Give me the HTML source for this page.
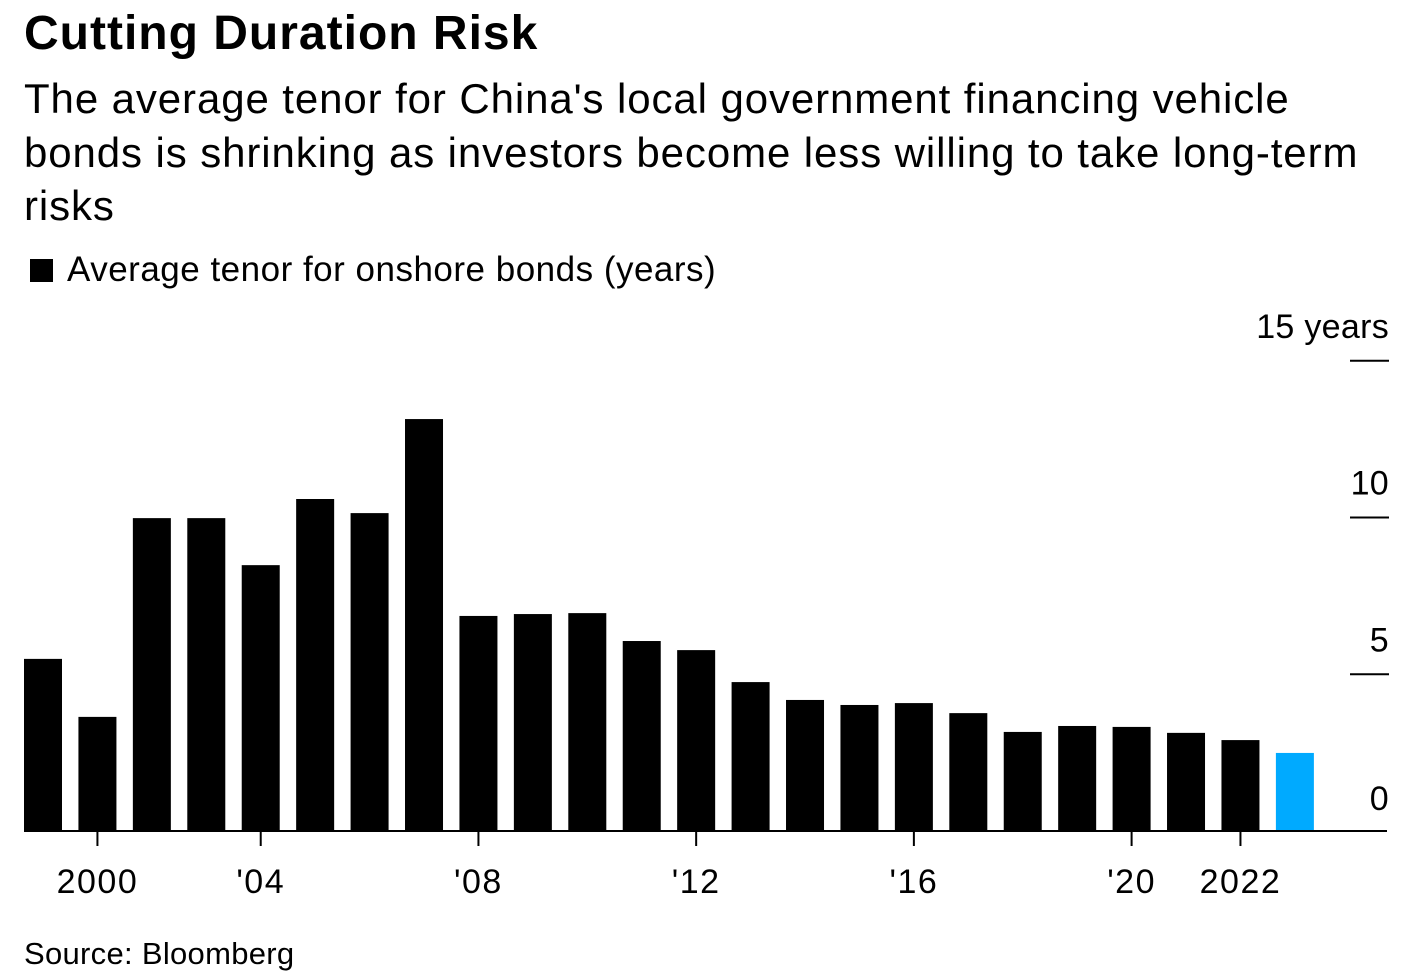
<!DOCTYPE html>
<html><head><meta charset="utf-8">
<style>
body{margin:0;background:#fff;font-family:"Liberation Sans",sans-serif;color:#000;width:1427px;height:979px;overflow:hidden;position:relative}
.t{position:absolute;left:24px;white-space:nowrap}
</style></head><body>
<div class="t" style="top:6px;font-size:48px;font-weight:bold;letter-spacing:1px">Cutting Duration Risk</div>
<div class="t" style="top:72px;font-size:42px;letter-spacing:0.9px;line-height:53.5px">The average tenor for China's local government financing vehicle<br>bonds is shrinking as investors become less willing to take long-term<br>risks</div>
<div class="t" style="top:250px;font-size:35px;letter-spacing:0.5px"><span style="display:inline-block;width:23px;height:23px;background:#000;margin-left:6px;margin-right:14px;vertical-align:-1px"></span>Average tenor for onshore bonds (years)</div>
<div class="t" style="top:936px;font-size:31px;letter-spacing:0.3px">Source: Bloomberg</div>
<svg id="chart" width="1427" height="979" style="position:absolute;left:0;top:0"></svg>
<script>
const years=[2000,2001,2002,2003,2004,2005,2006,2007,2008,2009,2010,2011,2012,2013,2014,2015,2016,2017,2018,2019,2020,2021,2022,2023];
const values=[5.49,3.64,9.98,9.98,8.48,10.59,10.14,13.14,6.86,6.92,6.95,6.06,5.77,4.75,4.18,4.02,4.08,3.76,3.16,3.35,3.32,3.13,2.90,2.49];
const yTicks=[0,5,10,15];
const yTickLabels=["0","5","10","15 years"];
const xTickYears=[2001,2004,2008,2012,2016,2020,2022];
const xTickLabels=["2000","'04","'08","'12","'16","'20","2022"];
const svg=document.getElementById('chart');
const NS='http://www.w3.org/2000/svg';
const x0=43,step=54.43,bw=38;
const xs=y=>x0+(y-years[0])*step;
const ys=v=>831-v*31.35;
function mk(t,a){const e=document.createElementNS(NS,t);for(const k in a)e.setAttribute(k,a[k]);svg.appendChild(e);return e;}
years.forEach((yr,i)=>{
  const r=mk('rect',{x:xs(yr)-bw/2,y:ys(values[i]),width:bw,height:ys(0)-ys(values[i]),fill:i===years.length-1?'#00aaff':'#000'});
  
  
});
yTicks.forEach((v,i)=>{
  if(v>0){const l=mk('line',{x1:1350,x2:1389,y1:ys(v),y2:ys(v),stroke:'#000','stroke-width':2});
  
  }
  const t=mk('text',{x:1389,y:ys(v)-(v>0?23:21),'text-anchor':'end','font-size':34,'letter-spacing':0.3,'font-family':'Liberation Sans, sans-serif'});
  t.textContent=yTickLabels[i];
  
  
});
const ax=mk('line',{x1:24,x2:1387,y1:831,y2:831,stroke:'#000','stroke-width':2});


xTickYears.forEach((yr,i)=>{
  const l=mk('line',{x1:xs(yr),x2:xs(yr),y1:831,y2:846,stroke:'#000','stroke-width':2});
  
  
  const t=mk('text',{x:xs(yr),y:893,'text-anchor':'middle','font-size':34,'letter-spacing':1.5,'font-family':'Liberation Sans, sans-serif'});
  t.textContent=xTickLabels[i];
  
  
});
</script>
</body></html>
